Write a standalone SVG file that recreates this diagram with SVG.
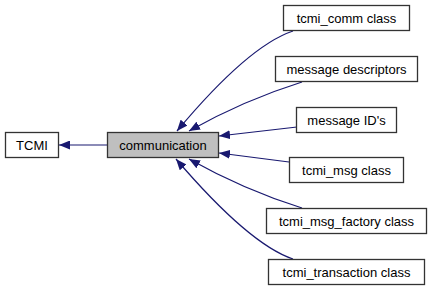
<svg xmlns="http://www.w3.org/2000/svg" width="432" height="291" viewBox="0 0 432 291">
  <defs>
    <marker id="arrow" viewBox="0 0 11 9" refX="11" refY="4.5" markerWidth="11" markerHeight="9" markerUnits="userSpaceOnUse" orient="auto">
      <path d="M0,0 L11,4.5 L0,9 Z" fill="#191970"/>
    </marker>
    <style>
      .box { fill: #ffffff; stroke: #333333; stroke-width: 1.3; }
      .current { fill: #bfbfbf; }
      .label { font-family: "Liberation Sans", Arial, sans-serif; font-size: 13px; fill: #000000; text-anchor: middle; }
      .edge { fill: none; stroke: #191970; stroke-width: 1.2; marker-end: url(#arrow); }
    </style>
  </defs>
  <rect width="432" height="291" fill="#ffffff"/>

  <!-- connectors: each module points to its parent group -->
  <g id="connectors">
    <path class="edge" d="M107,145 L59,145"/>
    <path class="edge" d="M293,31 C260,42 218,82 177,131"/>
    <path class="edge" d="M302,82 C270,92 230,108 189,131"/>
    <path class="edge" d="M297,127 L219,136"/>
    <path class="edge" d="M289,162 L219,153"/>
    <path class="edge" d="M302,208 C270,198 230,182 189,159"/>
    <path class="edge" d="M293,259 C260,248 218,208 176,159"/>
  </g>

  <g id="node-tcmi">
    <rect class="box" x="5.5" y="132.5" width="53" height="25"/>
    <text class="label" x="32" y="149.5">TCMI</text>
  </g>
  <g id="node-communication">
    <rect class="box current" x="107.5" y="132.5" width="111" height="25"/>
    <text class="label" x="163" y="149.5">communication</text>
  </g>
  <g id="node-tcmi-comm">
    <rect class="box" x="283.5" y="5.5" width="126" height="25"/>
    <text class="label" x="346.5" y="22.5">tcmi_comm class</text>
  </g>
  <g id="node-message-descriptors">
    <rect class="box" x="275.5" y="56.5" width="142" height="25"/>
    <text class="label" x="346.5" y="73.5">message descriptors</text>
  </g>
  <g id="node-message-ids">
    <rect class="box" x="296.5" y="107.5" width="100" height="25"/>
    <text class="label" x="346.5" y="124.5">message ID's</text>
  </g>
  <g id="node-tcmi-msg">
    <rect class="box" x="289.5" y="157.5" width="114" height="25"/>
    <text class="label" x="346.5" y="174.5">tcmi_msg class</text>
  </g>
  <g id="node-tcmi-msg-factory">
    <rect class="box" x="266.5" y="208.5" width="160" height="25"/>
    <text class="label" x="346.5" y="225.5">tcmi_msg_factory class</text>
  </g>
  <g id="node-tcmi-transaction">
    <rect class="box" x="268.5" y="259.5" width="156" height="25"/>
    <text class="label" x="346.5" y="276.5">tcmi_transaction class</text>
  </g>
</svg>
